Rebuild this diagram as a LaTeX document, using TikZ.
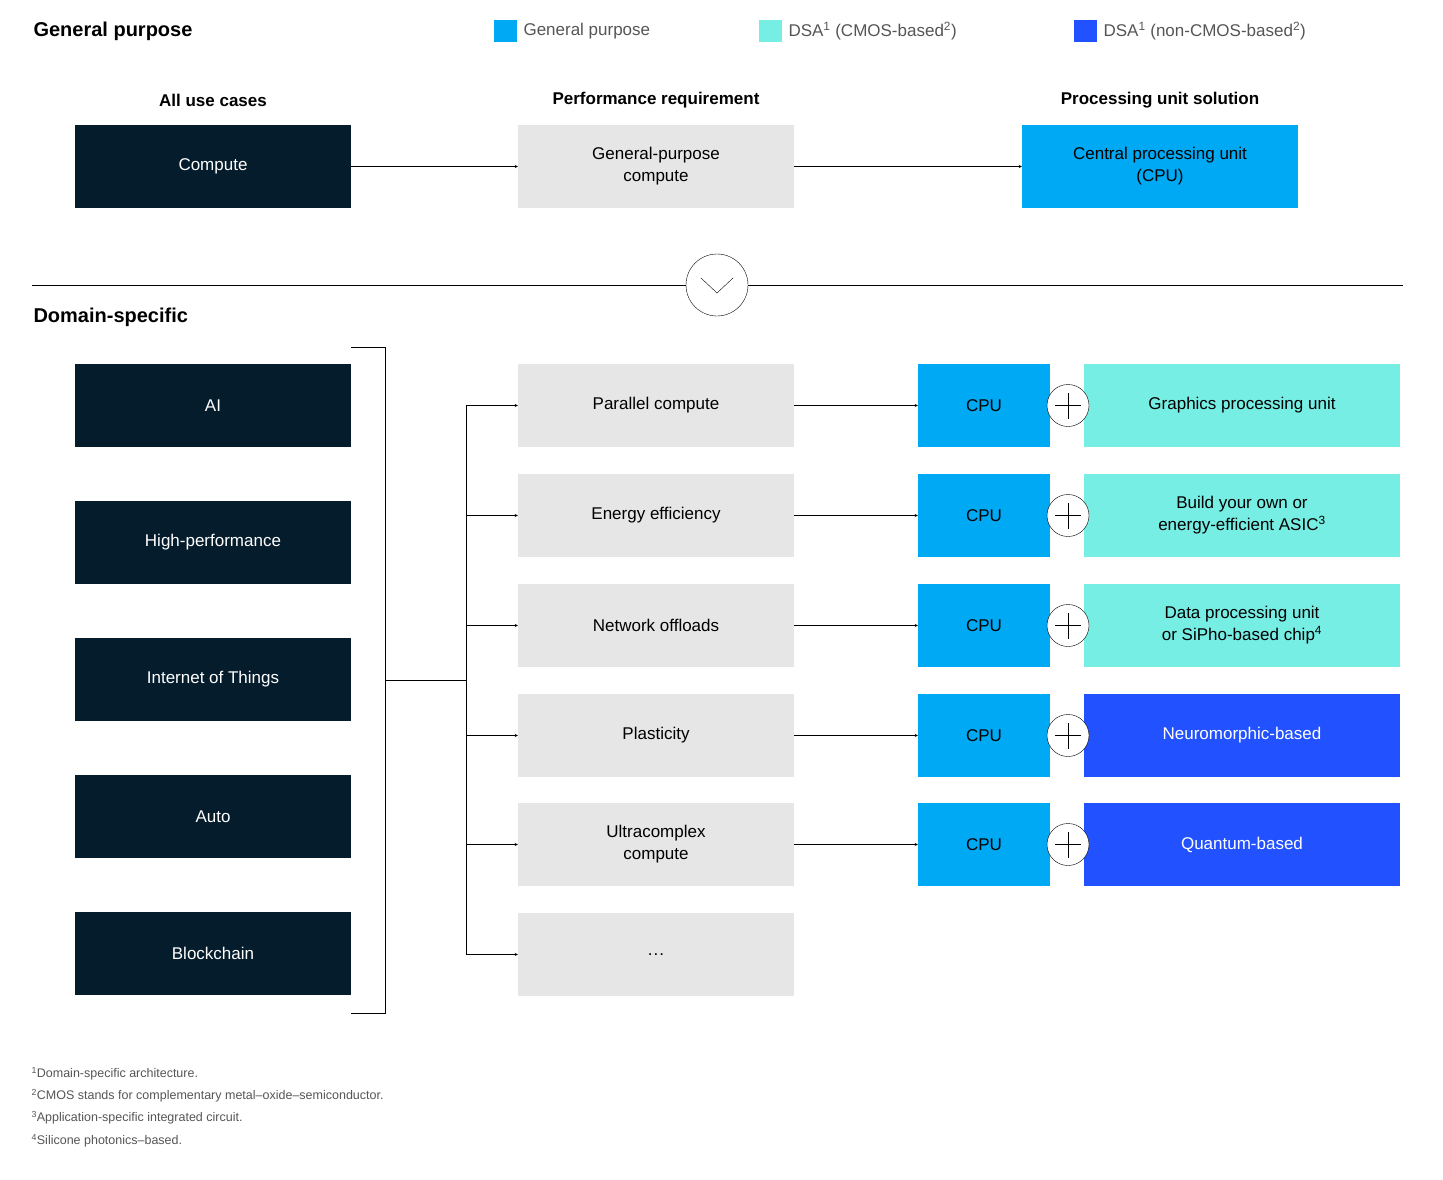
\documentclass[tikz,border=0pt]{standalone}
\usepackage{fontspec}
\setmainfont{Liberation Sans}
\begin{document}
\definecolor{navy}{HTML}{051C2C}
\definecolor{lgray}{HTML}{E6E6E6}
\definecolor{cpub}{HTML}{00A9F4}
\definecolor{cyanb}{HTML}{76EEE4}
\definecolor{blueb}{HTML}{2251FF}
\definecolor{fgray}{HTML}{555555}
\begin{tikzpicture}[x=1pt,y=-1pt,
 box/.style={minimum width=276pt,minimum height=83pt,inner sep=0pt,align=center,font=\fontsize{17}{22}\selectfont},
 dark/.style={box,fill=navy,text=white},
 req/.style={box,fill=lgray,text=black},
 cpu/.style={box,minimum width=132pt,fill=cpub},
 dsa/.style={box,minimum width=316pt,fill=cyanb},
 nc/.style={box,minimum width=316pt,fill=blueb,text=white},
 plus/.style={circle,draw,fill=white,minimum size=42pt,inner sep=0pt},
 head/.style={font=\bfseries\fontsize{17}{20}\selectfont},
 title/.style={font=\bfseries\fontsize{20}{24}\selectfont,anchor=west},
 leg/.style={font=\fontsize{17}{20}\selectfont,text=fgray,anchor=west},
 arr/.style={->,>=stealth,thin},
 fn/.style={font=\fontsize{12.5}{15}\selectfont,text=fgray,anchor=west}]
\useasboundingbox (0,0) rectangle (1443,1180);
\node[title] (t1) at (30,31) {General purpose};
\node[title] (t2) at (30,317) {Domain-specific};
\fill[cpub] (494,20) rectangle (517,42);
\node[leg] (l1) at (520,31) {General purpose};
\fill[cyanb] (759,20) rectangle (782,42);
\node[leg] (l2) at (785,31) {DSA\textsuperscript{1} (CMOS-based\textsuperscript{2})};
\fill[blueb] (1074,20) rectangle (1097,42);
\node[leg] (l3) at (1100,31) {DSA\textsuperscript{1} (non-CMOS-based\textsuperscript{2})};
\node[head] (h1) at (213,100) {All use cases};
\node[head] (h2) at (656,100) {Performance requirement};
\node[head] (h3) at (1160,100) {Processing unit solution};
\node[dark] (comp) at (213,166.5) {Compute};
\node[req] (gpc) at (656,166.5) {General-purpose\\compute};
\node[box,fill=cpub] (cpu0) at (1160,166.5) {Central processing unit\\(CPU)};
\draw[arr] (comp) -- (gpc);
\draw[arr] (gpc) -- (cpu0);
\draw (32,285) -- (686,285) (748,285) -- (1403,285);
\node[circle,draw,minimum size=62pt,inner sep=0pt] (chev) at (717,285) {};
\draw ([shift={(-16,-7)}]chev.center) -- ([shift={(0,8)}]chev.center) -- ([shift={(16,-7)}]chev.center);
\foreach \n/\t/\y in {a/AI/405.5,b/High-performance/542.5,c/Internet of Things/679.5,d/Auto/816.5,e/Blockchain/953.5}
  \node[dark] (\n) at (213,\y) {\t};
\draw (351,347) -- (385,347) -- (385,1013) -- (351,1013);
\coordinate (br) at (385,680);
\coordinate (sp) at (466,680);
\draw (br) -- (sp);
\draw (466,405.5) -- (466,954.5);
\foreach \n/\t/\y in {r1/Parallel compute/405.5,r2/Energy efficiency/515.5,r3/Network offloads/625.5,r4/Plasticity/735.5,r5/{Ultracomplex\\compute}/844.5}{
  \node[req] (\n) at (656,\y) {\t};
  \coordinate (s\n) at (466,\y);
  \draw[arr] (s\n) -- (\n);
}
\node[req] (r6) at (656,954.5) {.\kern1pt.\kern1pt.};
\coordinate (sr6) at (466,954.5);
\draw[arr] (sr6) -- (r6);
\foreach \i/\y in {1/405.5,2/515.5,3/625.5,4/735.5,5/844.5}{
  \node[cpu] (c\i) at (984,\y) {CPU};
  \draw[arr] (r\i) -- (c\i);
}
\node[dsa] (d1) at (1242,405.5) {Graphics processing unit};
\node[dsa] (d2) at (1242,515.5) {Build your own or\\energy-efficient ASIC\textsuperscript{3}};
\node[dsa] (d3) at (1242,625.5) {Data processing unit\\or SiPho-based chip\textsuperscript{4}};
\node[nc] (d4) at (1242,735.5) {Neuromorphic-based};
\node[nc] (d5) at (1242,844.5) {Quantum-based};
\foreach \i/\y in {1/405.5,2/515.5,3/625.5,4/735.5,5/844.5}{
  \node[plus] (p\i) at (1068,\y) {};
  \draw ([xshift=-13]p\i.center) -- ([xshift=13]p\i.center) ([yshift=-13]p\i.center) -- ([yshift=13]p\i.center);
}
\node[fn] (f1) at (28,1074) {\textsuperscript{1}Domain-specific architecture.};
\node[fn] (f2) at (28,1096) {\textsuperscript{2}CMOS stands for complementary metal--oxide--semiconductor.};
\node[fn] (f3) at (28,1118) {\textsuperscript{3}Application-specific integrated circuit.};
\node[fn] (f4) at (28,1141) {\textsuperscript{4}Silicone photonics--based.};
\end{tikzpicture}
\end{document}
